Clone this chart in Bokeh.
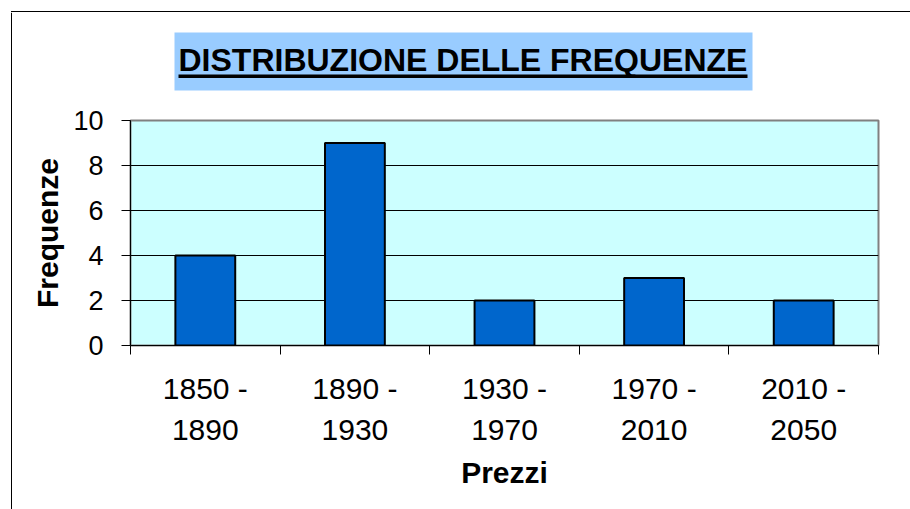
from bokeh.plotting import figure
from bokeh.models import FixedTicker, Range1d
from bokeh.layouts import row, column
from bokeh.core.properties import value
from bokeh.embed import file_html
from bokeh.resources import INLINE

# ---- data ----
categories = ["1850 - 1890", "1890 - 1930", "1930 - 1970", "1970 - 2010", "2010 - 2050"]
tick_labels = ["1850 -\n1890", "1890 -\n1930", "1930 -\n1970", "1970 -\n2010", "2010 -\n2050"]
frequencies = [4, 9, 2, 3, 2]
y_ticks = [0, 2, 4, 6, 8, 10]
title_text = "DISTRIBUZIONE DELLE FREQUENZE"
x_title = "Prezzi"
y_title = "Frequenze"

FONT = "Liberation Sans"
n = len(categories)
positions = list(range(n))


def blank(width, height, x_range, y_range, **borders):
    f = figure(width=width, height=height, output_backend="svg", toolbar_location=None,
               x_range=x_range, y_range=y_range, x_axis_type=None, y_axis_type=None,
               min_border=0, min_border_left=borders.get("left", 0),
               min_border_right=borders.get("right", 0),
               min_border_top=borders.get("top", 0),
               min_border_bottom=borders.get("bottom", 0))
    f.outline_line_color = None
    f.background_fill_color = "white"
    f.border_fill_color = "white"
    return f


# ---- top edge of the chart border ----
topbar = blank(910, 12, Range1d(0, 910), Range1d(12, 0))
topbar.quad(left=[10.5], right=[910], top=[10.5], bottom=[12], fill_color="black", line_color=None)

# ---- left edge of the chart border ----
strip = blank(12, 497, Range1d(0, 12), Range1d(509, 12))
strip.quad(left=[10.5], right=[12], top=[12], bottom=[509], fill_color="black", line_color=None)

# ---- title strip (same side borders as the chart so frames line up) ----
tfig = blank(898, 88, Range1d(130, 878), Range1d(100, 12), left=118, right=32)
tfig.quad(left=[174], right=[752], top=[32], bottom=[90], fill_color="#99CCFF", line_color=None)
tfig.text(x=[178], y=[59], text=[title_text], text_font=value(FONT),
          text_font_style="bold", text_font_size="32px", text_color="black",
          text_align="left", text_baseline="alphabetic")
tfig.quad(left=[178], right=[747], top=[74], bottom=[77.5], fill_color="black", line_color=None)

# ---- main chart ----
p = figure(width=898, height=409, output_backend="svg", toolbar_location=None,
           x_range=Range1d(-0.5, n - 0.5), y_range=Range1d(0, 10),
           min_border_left=118, min_border_right=32, min_border_top=20,
           min_border_bottom=164)
p.background_fill_color = "#CCFFFF"
p.border_fill_color = "white"
p.outline_line_color = "#808080"
p.outline_line_width = 2

p.vbar(x=positions, top=frequencies, width=0.4, fill_color="#0066CC",
       line_color="black", line_width=2)

p.xgrid.visible = False
p.ygrid.grid_line_color = "black"
p.ygrid.grid_line_width = 1

xa = p.xaxis[0]
xa.ticker = FixedTicker(ticks=positions, minor_ticks=[i - 0.5 for i in range(n + 1)])
xa.major_label_overrides = {i: t for i, t in zip(positions, tick_labels)}
xa.major_tick_out = 0
xa.major_tick_in = 0
xa.minor_tick_out = 9
xa.minor_tick_in = 0
xa.minor_tick_line_color = "black"
xa.axis_line_color = "black"
xa.major_label_text_font = FONT
xa.major_label_text_font_size = "30px"
xa.major_label_text_color = "black"
xa.major_label_text_line_height = 1.25
xa.major_label_standoff = 17
xa.axis_label = x_title
xa.axis_label_text_font = FONT
xa.axis_label_text_font_style = "bold"
xa.axis_label_text_font_size = "30px"
xa.axis_label_text_color = "black"
xa.axis_label_standoff = 7

ya = p.yaxis[0]
ya.ticker = FixedTicker(ticks=y_ticks, minor_ticks=[])
ya.major_tick_out = 9
ya.major_tick_in = 0
ya.minor_tick_out = 0
ya.minor_tick_in = 0
ya.major_tick_line_color = "black"
ya.axis_line_color = "black"
ya.major_label_text_font = FONT
ya.major_label_text_font_size = "27px"
ya.major_label_text_color = "black"
ya.major_label_standoff = 18
ya.axis_label = y_title
ya.axis_label_text_font = FONT
ya.axis_label_text_font_style = "bold"
ya.axis_label_text_font_size = "30px"
ya.axis_label_text_color = "black"
ya.axis_label_standoff = 6

layout = column(topbar, row(strip, column(tfig, p, spacing=0), spacing=0), spacing=0)
open("out.html", "w").write(file_html(layout, INLINE))
